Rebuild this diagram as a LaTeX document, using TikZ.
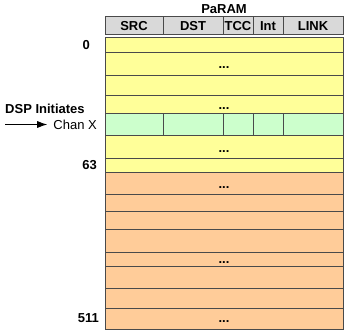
\documentclass[tikz,border=0pt]{standalone}
\usepackage{fontspec}
\setmainfont{Liberation Sans}
\usetikzlibrary{arrows.meta}
\definecolor{hdr}{HTML}{D9D9D9}
\definecolor{ylw}{HTML}{FFFF99}
\definecolor{grn}{HTML}{CCFFCC}
\definecolor{org}{HTML}{FFCC99}
\definecolor{brd}{HTML}{4A4A4A}
\tikzset{
  cell/.style={draw=brd, line width=1pt},
  lbl/.style={font=\fontsize{13}{15}\selectfont\bfseries, inner sep=0pt},
  dots/.style={font=\fontsize{13}{15}\selectfont\bfseries, inner sep=0pt, anchor=base},
}
\begin{document}
\begin{tikzpicture}[x=1pt,y=-1pt]
\useasboundingbox (0,0) rectangle (344,331);
% header
\node[lbl] (param) at (224,9) {PaRAM};
\foreach \a/\b/\t/\n in {105/163/SRC/src,163/223/DST/dst,223/253/TCC/tcc,253/283/Int/int,283/343/LINK/link}{
  \filldraw[cell,fill=hdr] (\a,17) rectangle (\b,35);
  \node[lbl] (\n) at ({(\a+\b)/2},26.5) {\t};
}
% yellow rows
\foreach \a/\b in {38/53,53/76,76/96,96/113,135.5/158,158/172.5}{
  \filldraw[cell,fill=ylw] (105,\a) rectangle (343,\b);
}
% green row
\foreach \a/\b in {105/163,163/223,223/253,253/283,283/343}{
  \filldraw[cell,fill=grn] (\a,113) rectangle (\b,135.5);
}
% orange rows
\foreach \a/\b in {172.5/194,194/211,211/229,229/252,252/266,266/288,288/308,308/329}{
  \filldraw[cell,fill=org] (105,\a) rectangle (343,\b);
}
% dots
\node[dots] (d1) at (224,69) {...};
\node[dots] (d2) at (224,109.5) {...};
\node[dots] (d3) at (224,152) {...};
\node[dots] (d4) at (224,188.5) {...};
\node[dots] (d5) at (224,263) {...};
\node[dots] (d6) at (224,322.5) {...};
% left labels
\node[lbl, anchor=east] (l0) at (90,45.5) {0};
\node[lbl, anchor=west] (dsp) at (5,108.5) {DSP Initiates};
\node[inner sep=0pt, anchor=east, font=\fontsize{13}{15}\selectfont] (chanx) at (97,125) {Chan X};
\coordinate (as) at (5,124.5);
\draw[line width=0.8pt, -{Latex[length=10pt,width=7pt]}] (as) -- ([xshift=-6pt]chanx.west |- as);
\node[lbl, anchor=east] (l63) at (97,165) {63};
\node[lbl, anchor=east] (l511) at (99,318) {511};
\end{tikzpicture}
\end{document}
